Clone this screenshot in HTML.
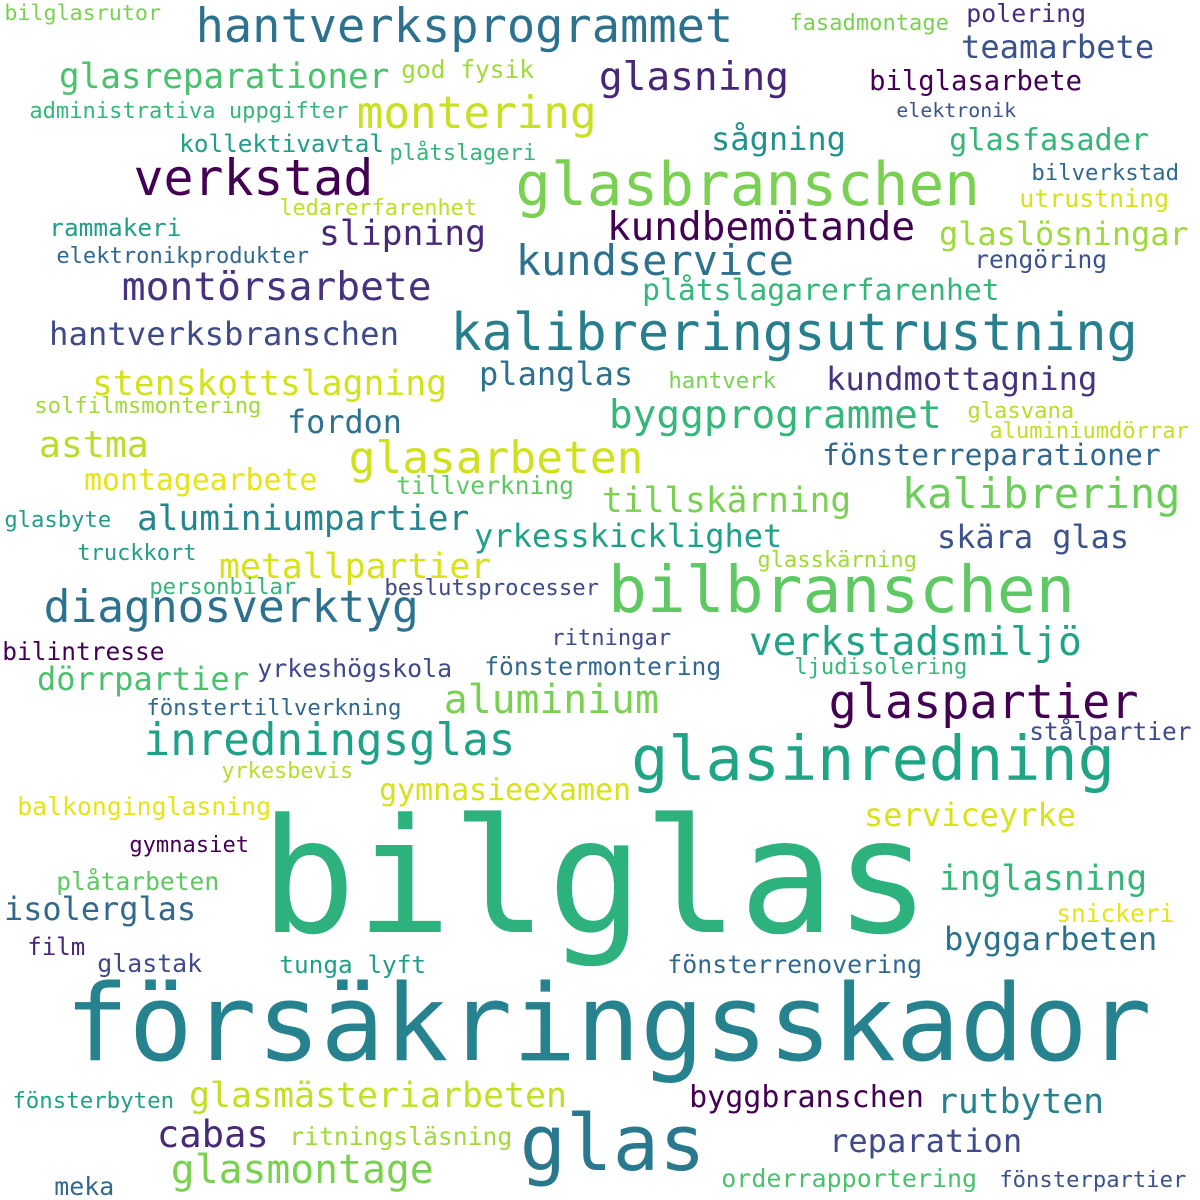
<!DOCTYPE html>
<html><head><meta charset="utf-8"><style>
html,body{margin:0;padding:0;background:#fff;}
svg{display:block;}
text{font-family:"DejaVu Sans Mono","Liberation Mono",monospace;}
</style></head><body>
<svg width="1200" height="1200" viewBox="0 0 1200 1200">
<rect width="1200" height="1200" fill="#fff"/>
<g id="words"></g>
</svg>
<script>
const words=["bilglas","försäkringsskador","glas","glasbranschen","bilbranschen","glasinredning","kalibreringsutrustning","verkstad","hantverksprogrammet","montering","glasreparationer","glasning","teamarbete","polering","fasadmontage","bilglasrutor","god fysik","administrativa uppgifter","bilglasarbete","elektronik","kollektivavtal","plåtslageri","sågning","glasfasader","bilverkstad","utrustning","ledarerfarenhet","rammakeri","elektronikprodukter","slipning","kundbemötande","glaslösningar","kundservice","rengöring","montörsarbete","plåtslagarerfarenhet","hantverksbranschen","stenskottslagning","planglas","hantverk","kundmottagning","solfilmsmontering","fordon","byggprogrammet","glasvana","aluminiumdörrar","astma","glasarbeten","fönsterreparationer","montagearbete","tillverkning","tillskärning","kalibrering","glasbyte","aluminiumpartier","yrkesskicklighet","skära glas","truckkort","metallpartier","glasskärning","personbilar","beslutsprocesser","diagnosverktyg","verkstadsmiljö","ritningar","bilintresse","yrkeshögskola","fönstermontering","ljudisolering","dörrpartier","aluminium","glaspartier","fönstertillverkning","stålpartier","inredningsglas","yrkesbevis","gymnasieexamen","balkonginglasning","serviceyrke","gymnasiet","inglasning","plåtarbeten","isolerglas","snickeri","byggarbeten","film","glastak","tunga lyft","fönsterrenovering","fönsterbyten","glasmästeriarbeten","byggbranschen","rutbyten","cabas","ritningsläsning","reparation","glasmontage","orderrapportering","fönsterpartier","meka"];
const colors=["#2db27d","#26828e","#2a788e","#7ad151","#5ec962","#20a486","#277f8e","#440154","#2c728e","#c8e020","#4ac16d","#482576","#3b528b","#472d7b","#7ad151","#7ad151","#a0da39","#35b779","#440154","#3b528b","#1f9e89","#35b779","#21918c","#35b779","#31688e","#d8e219","#bddf26","#1f9e89","#31688e","#482878","#440154","#a0da39","#2c728e","#3b528b","#46327e","#35b779","#3e4a89","#d2e21b","#2c728e","#7ad151","#46327e","#a0da39","#2c728e","#35b779","#b5de2b","#c2df23","#b8de29","#d0e11c","#31688e","#e5e419","#5ec962","#7ad151","#6ccd5a","#1f9e89","#25858e","#1fa188","#3b528b","#1f9e89","#d8e219","#a0da39","#35b779","#3e4a89","#2c728e","#20a486","#3e4a89","#440154","#3e4a89","#31688e","#35b779","#4ac16d","#7ad151","#440154","#31688e","#3e4a89","#1fa188","#b5de2b","#d8e219","#e5e419","#d8e219","#440154","#35b779","#5ec962","#31688e","#e5e419","#2c728e","#482878","#3e4a89","#1f9e89","#31688e","#1fa188","#c2df23","#440154","#26828e","#482878","#a0da39","#3e4a89","#7ad151","#4ac16d","#3b528b","#31688e"];
// layout boxes: [left, right, baseline]
const boxes=[[265,935,932],[68,1155,1060],[522,708,1170],[517,982,205],[610,1077,612],[633,1117,780],[452,1140,350],[135,375,195],[197,735,42],[358,598,128],[60,390,88],[600,790,90],[962,1155,58],[967,1087,22],[790,950,30],[5,162,20],[402,535,78],[30,350,118],[870,1083,90],[897,1017,117],[180,385,152],[390,537,160],[712,847,150],[950,1150,150],[1032,1180,180],[1020,1170,207],[280,478,215],[50,182,236],[57,310,263],[320,487,245],[608,916,240],[940,1190,245],[517,795,275],[975,1108,268],[123,433,300],[643,1000,300],[50,400,345],[93,448,395],[480,634,385],[669,777,388],[827,1098,390],[35,262,413],[288,403,433],[610,943,428],[968,1075,418],[990,1190,438],[40,150,457],[350,645,473],[823,1162,465],[85,318,490],[397,575,494],[603,852,512],[903,1182,508],[5,112,527],[138,470,530],[475,783,547],[938,1130,548],[78,197,560],[220,492,578],[758,918,567],[150,297,594],[385,600,595],[45,420,622],[750,1083,655],[552,672,645],[3,165,660],[258,453,677],[485,722,675],[795,968,674],[38,250,690],[445,660,713],[830,1140,718],[147,402,715],[1030,1192,740],[145,517,755],[222,354,778],[380,632,800],[18,272,815],[865,1077,826],[130,250,852],[940,1148,890],[57,220,890],[5,197,920],[1057,1175,922],[945,1158,950],[28,86,955],[98,203,972],[280,427,973],[668,923,973],[13,175,1108],[190,568,1107],[690,925,1107],[938,1105,1113],[158,270,1147],[290,513,1145],[830,1023,1152],[172,435,1183],[722,978,1187],[1000,1187,1187],[55,115,1195]];
const g=document.getElementById('words');
words.forEach((w,i)=>{
  const b=boxes[i];
  const width=b[1]-b[0];
  const size=width/(w.length*0.602);
  const t=document.createElementNS('http://www.w3.org/2000/svg','text');
  t.setAttribute('x',b[0]-size*0.03);
  t.setAttribute('y',b[2]);
  t.setAttribute('font-size',size.toFixed(1));
  t.setAttribute('fill',colors[i]);
  
  
  t.textContent=w;
  g.appendChild(t);
});
</script>
</body></html>
